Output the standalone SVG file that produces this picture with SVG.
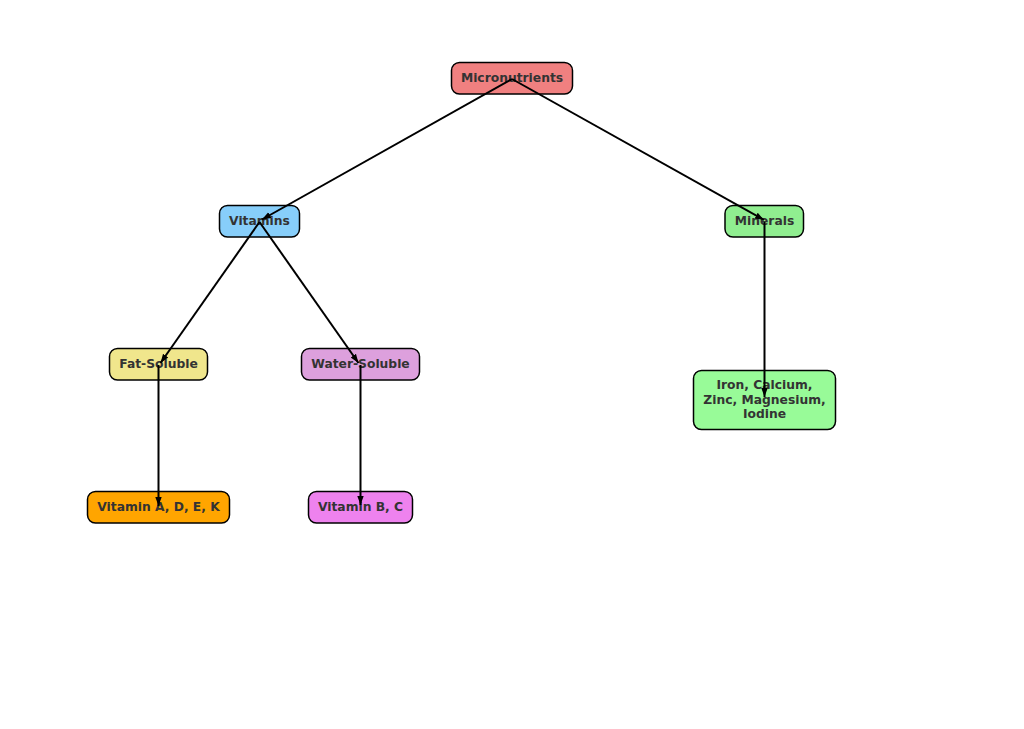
<svg xmlns="http://www.w3.org/2000/svg" width="1024" height="729" viewBox="0 0 1024 729">
<style>
.box{stroke:#000;stroke-width:1.5}
.lbl{font-family:"DejaVu Sans",sans-serif;font-weight:bold;font-size:12.3px;fill:#333;text-anchor:middle;dominant-baseline:central}
.edge{stroke:#000;stroke-width:2;fill:none}
</style>
<defs>
<marker id="ah" markerUnits="userSpaceOnUse" markerWidth="10" markerHeight="8" viewBox="0 -4 10 8" refX="9" refY="0" orient="auto">
<path d="M0,-3.2 L9,0 L0,3.2 Z" fill="#000"/>
</marker>
</defs>
<rect width="1024" height="729" fill="#fff"/>
<g id="n-micronutrients"><rect class="box" x="451.5" y="62.5" width="121" height="31.5" rx="8" fill="#F08080"/><text class="lbl" x="512" y="78">Micronutrients</text></g>
<g id="n-vitamins"><rect class="box" x="219.5" y="205.5" width="80" height="31.5" rx="8" fill="#87CEFA"/><text class="lbl" x="259.5" y="221">Vitamins</text></g>
<g id="n-minerals"><rect class="box" x="725" y="205.5" width="78.5" height="31.5" rx="8" fill="#90EE90"/><text class="lbl" x="764.5" y="221">Minerals</text></g>
<g id="n-fat"><rect class="box" x="109.5" y="348.5" width="98" height="31.5" rx="8" fill="#F0E68C"/><text class="lbl" x="158.5" y="364">Fat-Soluble</text></g>
<g id="n-water"><rect class="box" x="301.5" y="348.5" width="118" height="31.5" rx="8" fill="#DDA0DD"/><text class="lbl" x="360.5" y="364">Water-Soluble</text></g>
<g id="n-iron"><rect class="box" x="693.5" y="370.5" width="142" height="59" rx="8" fill="#98FB98"/><text class="lbl" x="764.5" y="385">Iron, Calcium,</text><text class="lbl" x="764.5" y="399.5">Zinc, Magnesium,</text><text class="lbl" x="764.5" y="414">Iodine</text></g>
<g id="n-vita"><rect class="box" x="87.5" y="491.5" width="142" height="31.5" rx="8" fill="#FFA500"/><text class="lbl" x="158.5" y="507">Vitamin A, D, E, K</text></g>
<g id="n-vitb"><rect class="box" x="308.5" y="491.5" width="104" height="31.5" rx="8" fill="#EE82EE"/><text class="lbl" x="360.5" y="507">Vitamin B, C</text></g>
<g id="edges">
<line class="edge" x1="512" y1="79" x2="262" y2="219.5" marker-end="url(#ah)"/>
<line class="edge" x1="512" y1="79" x2="764" y2="220" marker-end="url(#ah)"/>
<line class="edge" x1="259.5" y1="222" x2="160.5" y2="363" marker-end="url(#ah)"/>
<line class="edge" x1="259.5" y1="222" x2="358.5" y2="363" marker-end="url(#ah)"/>
<line class="edge" x1="764.5" y1="222" x2="764.5" y2="397" marker-end="url(#ah)"/>
<line class="edge" x1="158.5" y1="365" x2="158.5" y2="506" marker-end="url(#ah)"/>
<line class="edge" x1="360.5" y1="365" x2="360.5" y2="505" marker-end="url(#ah)"/>
</g>
</svg>
